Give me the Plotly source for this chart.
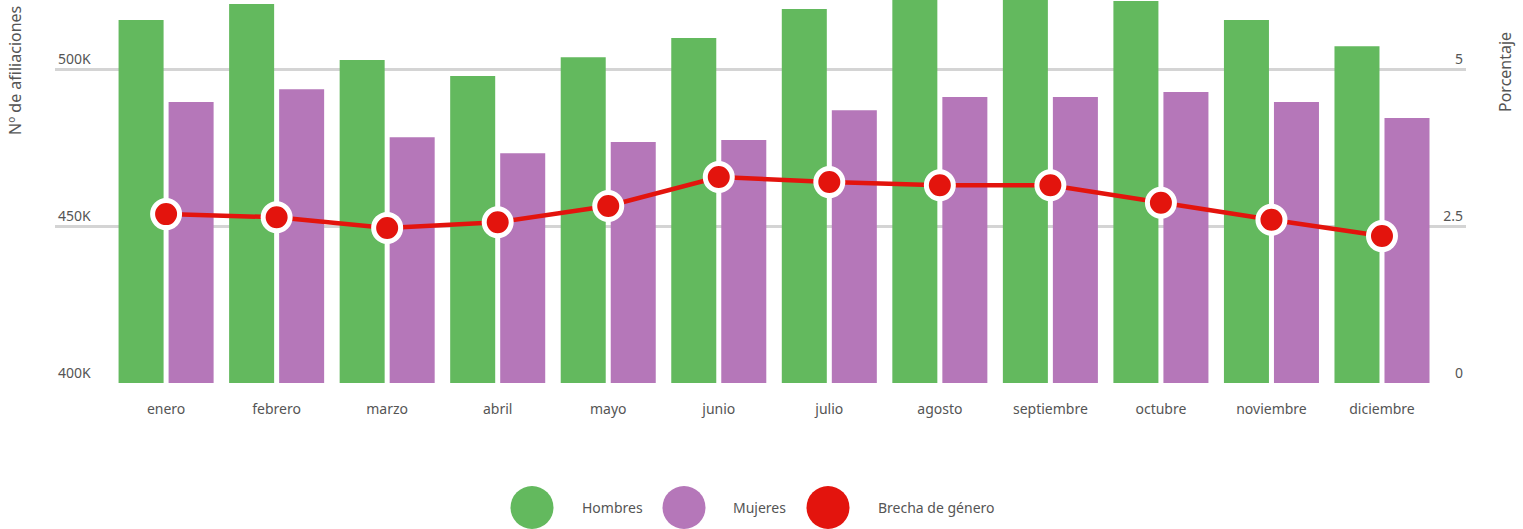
import plotly.graph_objects as go

meses = ["enero", "febrero", "marzo", "abril", "mayo", "junio", "julio",
         "agosto", "septiembre", "octubre", "noviembre", "diciembre"]
hombres = [515600, 520700, 502900, 497800, 503800, 509900, 519100,
           523500, 523500, 521700, 515600, 507300]
mujeres = [489500, 493600, 478300, 473200, 476800, 477400, 486900,
           491100, 491100, 492700, 489500, 484400]
brecha = [2.69, 2.64, 2.47, 2.56, 2.82, 3.28, 3.20, 3.15, 3.15, 2.87, 2.60, 2.34]

left_ticks = [400000, 450000, 500000]
left_labels = ["400K", "450K", "500K"]
right_ticks = [0, 2.5, 5]
right_labels = ["0", "2.5", "5"]

GREEN = "#63b95e"
PURPLE = "#b577b9"
RED = "#e3140d"
TEXT = "#555555"
GRID = "#d4d4d4"
FONT = "Noto Sans"

W, H = 1523, 529
L, R, T, B = 55, 57, 0, 146
PW = W - L - R
PH = H - T - B

def px(x):
    return (x - L) / PW

def py(y):
    return (PH + T - y) / PH

fig = go.Figure()
fig.add_trace(go.Bar(x=meses, y=hombres, name="Hombres", marker_color=GREEN,
                     marker_line_width=0))
fig.add_trace(go.Bar(x=meses, y=mujeres, name="Mujeres", marker_color=PURPLE,
                     marker_line_width=0))
fig.add_trace(go.Scatter(x=meses, y=brecha, name="Brecha de género", yaxis="y2",
                         mode="lines+markers",
                         line=dict(color=RED, width=4.5),
                         marker=dict(size=27, color=RED,
                                     line=dict(color="white", width=5))))

fig.update_layout(
    width=W, height=H,
    margin=dict(l=L, r=R, t=T, b=B, pad=0),
    paper_bgcolor="white", plot_bgcolor="white",
    font=dict(family=FONT, color=TEXT, size=14),
    showlegend=False,
    barmode="group",
    bargap=0.095,
    bargroupgap=0.1,
    xaxis=dict(
        type="category",
        range=[-1.005, 11.76],
        showgrid=False, zeroline=False, showline=False,
        ticks="outside", ticklen=13, tickcolor="rgba(0,0,0,0)",
        tickfont=dict(size=14, color=TEXT),
    ),
    yaxis=dict(
        range=[400000, 522000],
        tickvals=left_ticks, ticktext=left_labels,
        ticklabelposition="inside top",
        showgrid=True, gridcolor=GRID, gridwidth=2.5,
        zeroline=False, showline=False,
        tickfont=dict(size=14, color=TEXT),
    ),
    yaxis2=dict(
        range=[0, 6.1],
        overlaying="y", side="right",
        tickvals=right_ticks, ticktext=right_labels,
        ticklabelposition="inside top",
        showgrid=False, zeroline=False, showline=False,
        tickfont=dict(size=14, color=TEXT),
    ),
)

# axis titles
fig.add_annotation(text="Nº de afiliaciones", xref="paper", yref="paper",
                   x=px(15), y=py(71), textangle=-90, showarrow=False,
                   xanchor="center", yanchor="middle",
                   font=dict(size=16, color=TEXT))
fig.add_annotation(text="Porcentaje", xref="paper", yref="paper",
                   x=px(1505), y=py(72), textangle=-90, showarrow=False,
                   xanchor="center", yanchor="middle",
                   font=dict(size=16, color=TEXT))

# custom legend
legend_items = [("Hombres", GREEN, 532, 580),
                ("Mujeres", PURPLE, 684, 731),
                ("Brecha de género", RED, 828, 876)]
for name, col, cx, tx in legend_items:
    fig.add_shape(type="circle", xref="paper", yref="paper",
                  xsizemode="pixel", ysizemode="pixel",
                  xanchor=px(cx), yanchor=py(507.5),
                  x0=-21.5, x1=21.5, y0=-21.5, y1=21.5,
                  fillcolor=col, line=dict(width=0))
    fig.add_annotation(text=name, xref="paper", yref="paper",
                       x=px(tx), y=py(507.5), showarrow=False,
                       xanchor="left", yanchor="middle",
                       font=dict(size=14, color=TEXT))

fig.write_html("out.html",
               config={"displayModeBar": False},
               post_script="document.body.style.margin='0';document.body.style.overflow='hidden';")
